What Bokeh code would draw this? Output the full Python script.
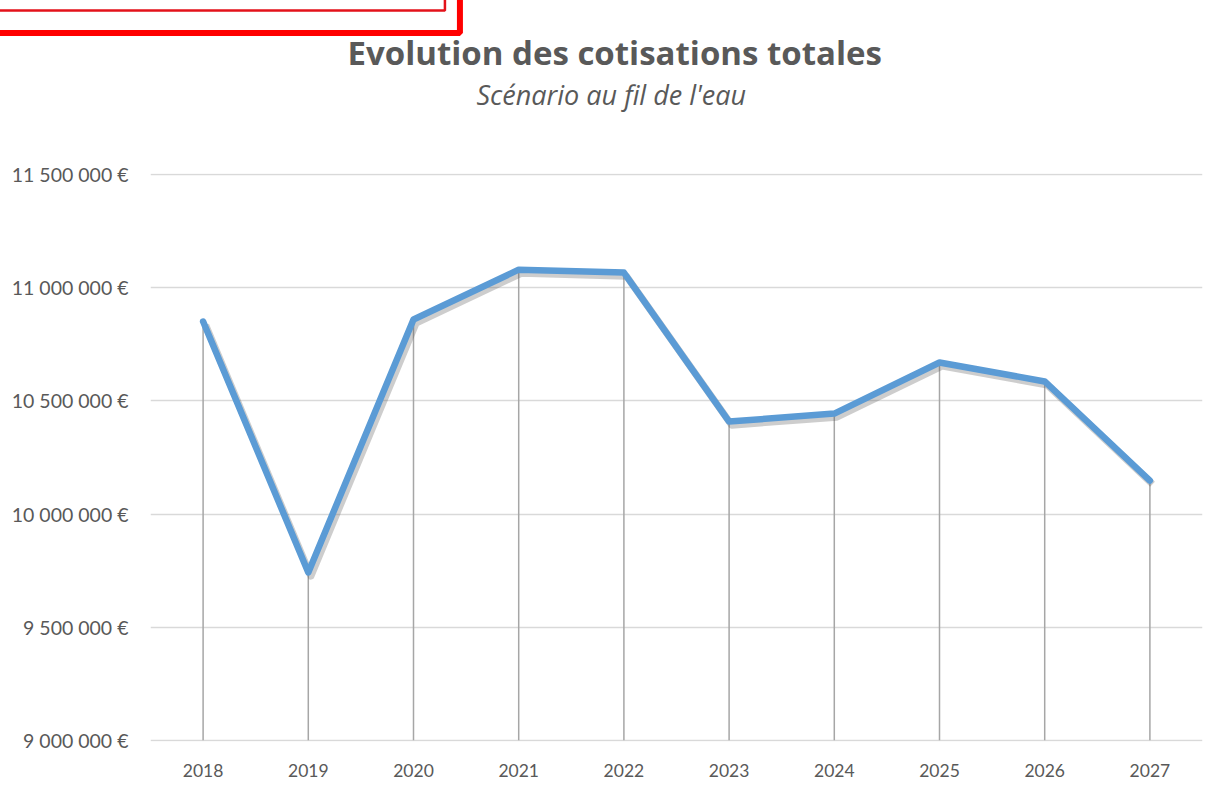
from bokeh.plotting import figure
from bokeh.models import Title, FixedTicker
from bokeh.embed import file_html
from bokeh.resources import INLINE

years = ["2018", "2019", "2020", "2021", "2022", "2023", "2024", "2025", "2026", "2027"]
cotisations = [10851000, 9742000, 10860000, 11080000, 11067000, 10409000, 10444000, 10670000, 10586000, 10148000]
y_ticks = [9000000, 9500000, 10000000, 10500000, 11000000, 11500000]
y_tick_labels = ["9 000 000 €", "9 500 000 €", "10 000 000 €", "10 500 000 €", "11 000 000 €", "11 500 000 €"]
title_text = "Evolution des cotisations totales"
subtitle_text = "Scénario au fil de l'eau"

FONT = "Lato"
TFONT = "Open Sans"
TXT = "#595959"

xs = list(range(1, len(years) + 1))
y_min, y_max = 9000000, 11500000
pad = 5000

p = figure(width=1204, height=806, output_backend="svg", toolbar_location=None,
           x_range=(0.5, len(years) + 0.5), y_range=(y_min - pad, y_max + pad),
           min_border_left=150, min_border_right=2, min_border_top=173, min_border_bottom=65)
p.outline_line_color = None
p.background_fill_color = "white"

# axes
p.xaxis.ticker = FixedTicker(ticks=xs)
p.xaxis.major_label_overrides = {x: y for x, y in zip(xs, years)}
p.yaxis.ticker = FixedTicker(ticks=y_ticks)
p.yaxis.major_label_overrides = {t: l for t, l in zip(y_ticks, y_tick_labels)}
for ax in (p.xaxis, p.yaxis):
    ax.axis_line_color = None
    ax.major_tick_line_color = None
    ax.minor_tick_line_color = None
    ax.major_label_text_color = TXT
    ax.major_label_text_font = FONT
p.yaxis.major_label_text_font_size = "19.5px"
p.xaxis.major_label_text_font_size = "17.5px"
p.yaxis.major_label_standoff = 16
p.xaxis.major_label_standoff = 16

p.xgrid.grid_line_color = None
p.ygrid.ticker = FixedTicker(ticks=y_ticks)
p.ygrid.grid_line_color = "#d9d9d9"
p.ygrid.grid_line_width = 1.5

# drop lines
p.segment(x0=xs, y0=[y_min] * len(xs), x1=xs, y1=cotisations, line_color="#a6a6a6", line_width=1.5)

# shadow + line
shadow_x = [x + 0.025 for x in xs]
shadow_y = [v - 16000 for v in cotisations]
p.line(shadow_x, shadow_y, line_color="#595959", line_width=7, line_alpha=0.3, line_join="round")
p.line(xs, cotisations, line_color="#5b9bd5", line_width=6.5, line_join="round", line_cap="round")

# header panels (first added sits closest to the frame)
p.add_layout(Title(text=" ", standoff=54, text_font=FONT, text_font_size="10px"), "above")
p.add_layout(Title(text=subtitle_text, align="left", offset=326, standoff=-14, text_font=TFONT,
                   text_font_style="italic", text_font_size="27px", text_color=TXT), "above")
p.add_layout(Title(text=title_text, align="left", offset=197, standoff=12, text_font=TFONT,
                   text_font_style="bold", text_font_size="33px", text_color=TXT), "above")
# red frame fragments at the top-left corner
p.add_layout(Title(text=" ", align="left", offset=-173, standoff=-23, text_font=FONT, text_font_size="10px",
                   border_line_color="red", border_line_width=6, padding=(240, 240, 13, 13)), "above")
p.add_layout(Title(text=" ", align="left", offset=-170, standoff=-12, text_font=FONT, text_font_size="10px",
                   border_line_color="#e3121a", border_line_width=2.5, padding=(231, 231, 1, 1)), "above")

open("out.html", "w").write(file_html(p, INLINE))
